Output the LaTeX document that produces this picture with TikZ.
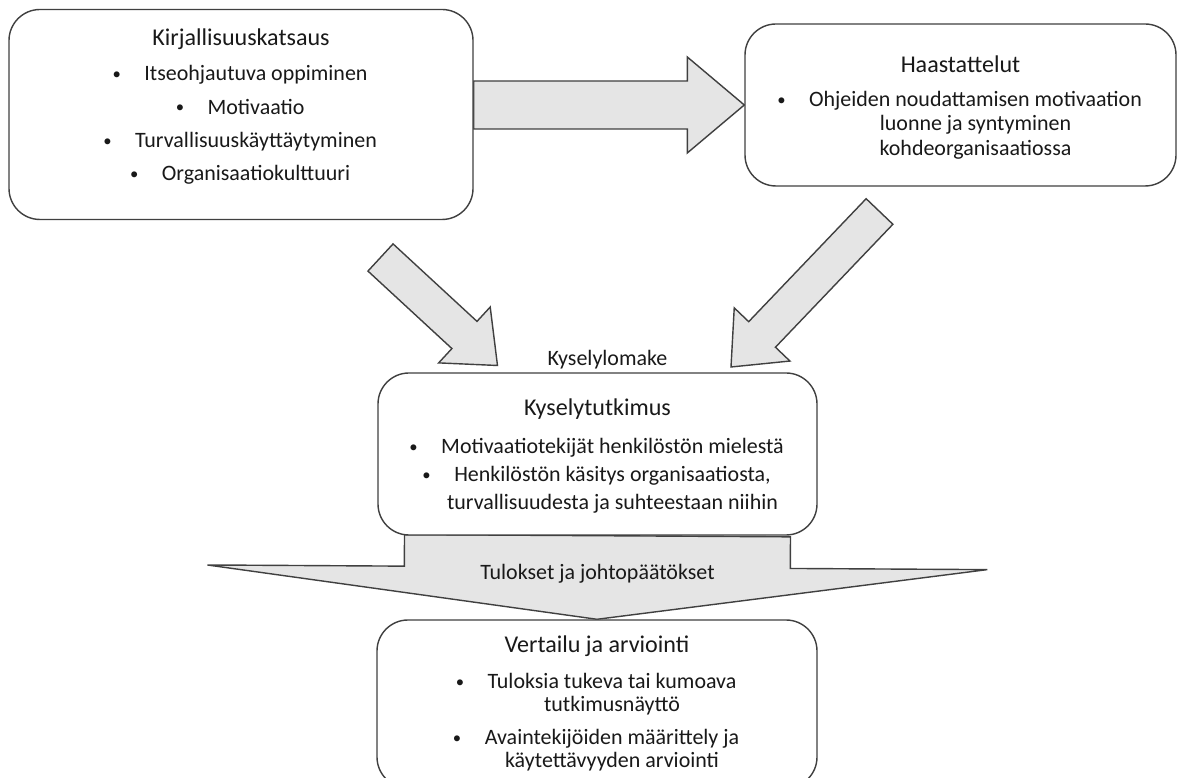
\documentclass[tikz,border=0pt]{standalone}
\usepackage{fontspec}
\setmainfont{Carlito}
\usepackage{tikz}
\usetikzlibrary{positioning,calc,backgrounds}

\newcommand{\bul}[1]{\hspace*{0.6cm}\llap{\raisebox{0.6pt}{\fontsize{9.5}{9.5}\selectfont\textbullet}\hspace{0.47cm}}#1}
\newcommand{\cont}[1]{\hspace*{0.6cm}#1}
\newcommand{\ttl}[1]{{\fontsize{13.7}{16}\selectfont #1}}
% block arrow: shaft half width, head half width, head length, tail, tip
\newcommand{\fatarrow}[5]{%
  \path ($(#5)!#3!(#4)$) coordinate (hb);
  \draw[blockarr] ($(#4)!#1!90:(#5)$) -- ($(hb)!#1!90:(#5)$) -- ($(hb)!#2!90:(#5)$)
    -- (#5) -- ($(hb)!#2!-90:(#5)$) -- ($(hb)!#1!-90:(#5)$) -- ($(#4)!#1!-90:(#5)$) -- cycle;}

\begin{document}
\begin{tikzpicture}[
  box/.style={draw=black!75, line width=0.8pt, rounded corners=0.62cm, fill=white},
  boxtext/.style={align=center, inner sep=0pt, anchor=north, text=black!90},
  blockarr/.style={draw=black!75, line width=0.8pt, fill=black!10, line join=miter},
  lbl/.style={font=\fontsize{12.5}{15}\selectfont, text=black!90}]
  \useasboundingbox (0,0) rectangle (23.58,15.56);

  % boxes
  \node[box, minimum width=9.28cm, minimum height=4.2cm] (kirj) at (4.82,13.27) {};
  \node[boxtext, font=\fontsize{12.5}{18.9}\selectfont, below=0.4cm of kirj.north] (kirj-txt)
    {\ttl{Kirjallisuuskatsaus}\\[1pt]
     \bul{Itseohjautuva oppiminen}\\ \bul{Motivaatio}\\
     \bul{Turvallisuuskäyttäytyminen}\\ \bul{Organisaatiokulttuuri}};

  \node[box, minimum width=8.62cm, minimum height=3.24cm] (haast) at (19.21,13.46) {};
  \node[boxtext, font=\fontsize{12.5}{13.9}\selectfont, below=0.64cm of haast.north] (haast-txt)
    {\ttl{Haastattelut}\\[5.4pt]
     \bul{Ohjeiden noudattamisen motivaation}\\ \cont{luonne ja syntyminen}\\
     \cont{kohdeorganisaatiossa}};

  \node[box, minimum width=8.78cm, minimum height=3.24cm] (kysely) at (11.95,6.48) {};
  \node[boxtext, font=\fontsize{12.5}{16}\selectfont, below=0.52cm of kysely.north] (kysely-txt)
    {\ttl{Kyselytutkimus}\\[5.8pt]
     \bul{Motivaatiotekijät henkilöstön mielestä}\\
     \bul{Henkilöstön käsitys organisaatiosta,}\\ \cont{turvallisuudesta ja suhteestaan niihin}};

  \node[box, minimum width=8.8cm, minimum height=3.36cm] (vert) at (11.94,1.48) {};
  \node[boxtext, font=\fontsize{12.5}{13.1}\selectfont, below=0.33cm of vert.north] (vert-txt)
    {\ttl{Vertailu ja arviointi}\\[7.4pt]
     \bul{Tuloksia tukeva tai kumoava}\\ \cont{tutkimusnäyttö}\\[5.7pt]
     \bul{Avaintekijöiden määrittely ja}\\ \cont{käytettävyyden arviointi}};

  \node[lbl] (lomake) at ($(kysely.north)+(0.2,0.25)$) {Kyselylomake};
  \node[lbl] (tulos) at ($(kysely.south)+(0,-0.76)$) {Tulokset ja johtopäätökset};

  \coordinate (kirj-out) at (kirj.east |- haast.west);
  \coordinate (kirj-down) at (7.61,10.41);
  \coordinate (kysely-inl) at (9.95,8.25);
  \coordinate (haast-down) at (17.59,11.33);
  \coordinate (kysely-inr) at (14.62,8.22);

  \begin{scope}[on background layer]
    \fatarrow{0.48cm}{0.96cm}{1.14cm}{kirj-out}{haast.west}
    \fatarrow{0.37cm}{0.76cm}{0.9cm}{kirj-down}{kysely-inl}
    \fatarrow{0.37cm}{0.77cm}{0.9cm}{haast-down}{kysely-inr}
    \fatarrow{3.86cm}{7.8cm}{1.04cm}{kysely.south}{vert.north}
  \end{scope}
\end{tikzpicture}
\end{document}
